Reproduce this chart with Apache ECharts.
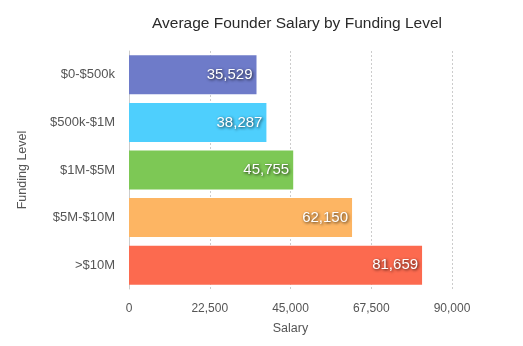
<!DOCTYPE html>
<html><head><meta charset="utf-8">
<script src="https://cdn.jsdelivr.net/npm/echarts@6/dist/echarts.min.js"></script>
<style>html,body{margin:0;padding:0;background:#fff}#c{width:523px;height:346px}</style>
</head><body><div id="c"></div>
<script>
const categories = ["$0-$500k", "$500k-$1M", "$1M-$5M", "$5M-$10M", ">$10M"];
const salaries = [35529, 38287, 45755, 62150, 81659];
const barColors = ["#6e7bc9", "#4ecffd", "#7dc855", "#fdb563", "#fc6a4f"];
const xTicks = { min: 0, max: 90000, interval: 22500 };
const FONT = "Liberation Sans, Arial, sans-serif";

const chart = echarts.init(document.getElementById('c'), null, {renderer: 'canvas'});
chart.setOption({
  animation: false,
  title: {
    text: "Average Founder Salary by Funding Level",
    left: 292, top: 11, textAlign: 'center',
    textStyle: { fontFamily: FONT, fontSize: 15.5, fontWeight: 'normal', color: '#2a2a2a' }
  },
  grid: { left: 129, right: 71, top: 51, bottom: 57, containLabel: false },
  xAxis: {
    type: 'value', min: xTicks.min, max: xTicks.max, interval: xTicks.interval,
    name: 'Salary', nameLocation: 'middle', nameGap: 33,
    nameTextStyle: { fontFamily: FONT, fontSize: 12.5, color: '#555' },
    axisLine: { show: false },
    axisTick: { show: false },
    axisLabel: { fontFamily: FONT, fontSize: 12, color: '#555', margin: 14,
      formatter: v => v.toLocaleString('en-US') },
    splitLine: { show: true, lineStyle: { color: '#ccc', type: [2, 2], width: 1 } }
  },
  yAxis: {
    type: 'category', data: categories, inverse: true,
    name: 'Funding Level', nameLocation: 'middle', nameGap: 100, nameRotate: 90,
    nameTextStyle: { fontFamily: FONT, fontSize: 12.5, color: '#555' },
    axisLine: { show: true, lineStyle: { color: '#ccc', width: 1 } },
    axisTick: { show: false },
    axisLabel: { fontFamily: FONT, fontSize: 13, color: '#555', margin: 14 }
  },
  series: [{
    type: 'bar',
    data: salaries.map((v, i) => ({ value: v, itemStyle: { color: barColors[i] } })),
    barCategoryGap: '18%',
    label: {
      show: true, position: 'insideRight', distance: 4,
      formatter: p => p.value.toLocaleString('en-US'),
      fontFamily: FONT, fontSize: 15, color: '#fff',
      textShadowColor: 'rgba(0,0,0,0.8)', textShadowBlur: 3,
      textShadowOffsetX: 1, textShadowOffsetY: 1
    }
  }]
});
</script></body></html>
